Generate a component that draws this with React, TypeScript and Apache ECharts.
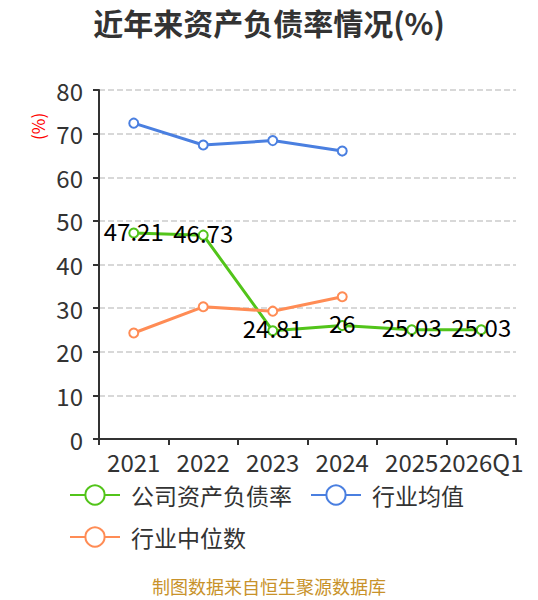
import React, { useEffect, useRef } from "react";
import * as echarts from "echarts";

const categories = ["2021", "2022", "2023", "2024", "2025", "2026Q1"];
const companyRatio = [47.21, 46.73, 24.81, 26, 25.03, 25.03];
const industryMean = [72.4, 67.4, 68.4, 66.0];
const industryMedian = [24.3, 30.3, 29.3, 32.6];
const yTicks = { min: 0, max: 80, interval: 10 };

export default function App() {
  const ref = useRef<HTMLDivElement>(null);
  useEffect(() => {
    const chart = echarts.init(ref.current!, undefined, { renderer: "svg" });
    const font = "'Noto Sans CJK SC', 'Noto Sans', sans-serif";
    chart.setOption({
      animation: false,
      textStyle: { fontFamily: font },
      title: {
        text: "近年来资产负债率情况(%)",
        left: "center",
        top: 2,
        textStyle: { fontSize: 30, fontWeight: "bold", color: "#333", fontFamily: font },
      },
      graphic: [
        {
          type: "text",
          left: "center",
          top: 577,
          style: { text: "制图数据来自恒生聚源数据库", fill: "#c8922a", fontSize: 18, fontFamily: font },
        },
        {
          type: "text",
          x: 29,
          y: 140,
          rotation: Math.PI / 2,
          style: { text: "(%)", fill: "red", fontSize: 17, fontFamily: font },
        },
      ],
      legend: {
        left: 64,
        top: 478,
        width: 460,
        itemWidth: 50,
        itemHeight: 24,
        itemGap: 18,
        textStyle: { fontSize: 23, color: "#333", fontFamily: font, padding: [0, 0, 0, 6], lineHeight: 24 },
        data: ["公司资产负债率", "行业均值", "行业中位数"],
      },
      grid: { left: 99, right: 22, top: 90, bottom: 161 },
      xAxis: {
        type: "category",
        data: categories,
        boundaryGap: true,
        axisLine: { lineStyle: { color: "#333", width: 2 } },
        axisTick: { show: true, length: 6, lineStyle: { color: "#333", width: 2 } },
        axisLabel: { fontSize: 24, color: "#333", margin: 10, interval: 0 },
      },
      yAxis: {
        type: "value",
        min: yTicks.min,
        max: yTicks.max,
        interval: yTicks.interval,
        axisLine: { show: true, lineStyle: { color: "#333", width: 2 } },
        axisTick: { show: true, length: 6, lineStyle: { color: "#333", width: 2 } },
        axisLabel: { fontSize: 24, color: "#333", margin: 16 },
        splitLine: { lineStyle: { type: "dashed", color: "#ccc", width: 1.5 } },
      },
      series: [
        {
          name: "公司资产负债率",
          type: "line",
          data: companyRatio,
          symbol: "emptyCircle",
          symbolSize: 9,
          lineStyle: { width: 3, color: "#52c41a" },
          itemStyle: { color: "#52c41a" },
          label: { show: true, position: "inside", offset: [0, -3], fontSize: 24, color: "#000" },
          z: 3,
        },
        {
          name: "行业均值",
          type: "line",
          data: industryMean,
          symbol: "emptyCircle",
          symbolSize: 9,
          lineStyle: { width: 3, color: "#4a7fe0" },
          itemStyle: { color: "#4a7fe0" },
        },
        {
          name: "行业中位数",
          type: "line",
          data: industryMedian,
          symbol: "emptyCircle",
          symbolSize: 9,
          lineStyle: { width: 3, color: "#ff8c55" },
          itemStyle: { color: "#ff8c55" },
        },
      ],
    });
    return () => chart.dispose();
  }, []);
  return <div ref={ref} style={{ width: 538, height: 600, position: "absolute", left: 0, top: 0 }} />;
}
